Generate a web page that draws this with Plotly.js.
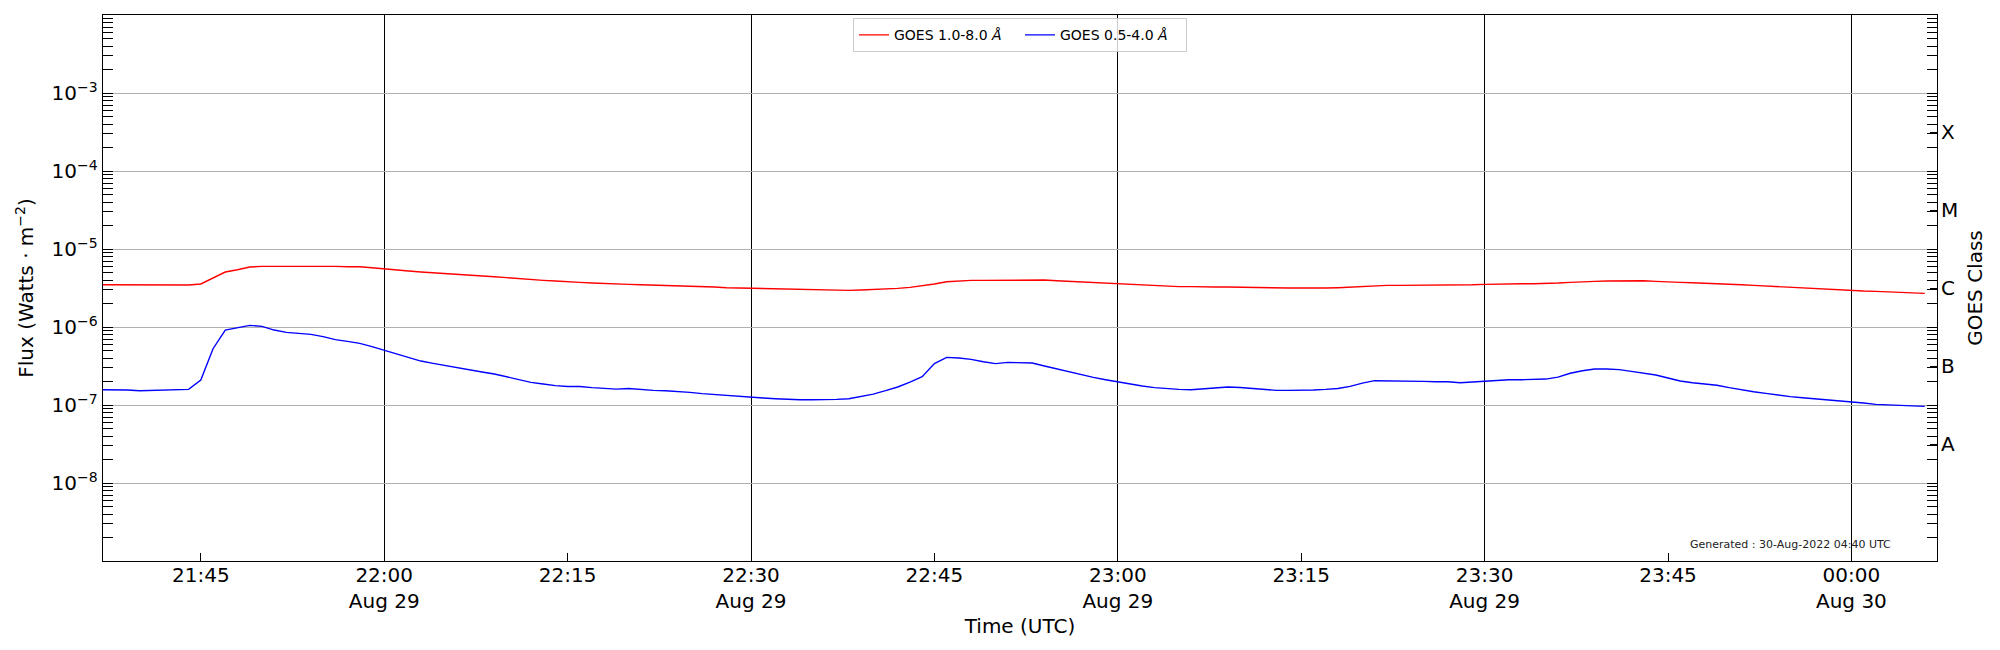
<!DOCTYPE html>
<html>
<head>
<meta charset="utf-8">
<script src="https://cdn.plot.ly/plotly-3.0.1.min.js"></script>
<style>
  html, body { margin: 0; padding: 0; background: #ffffff; }
  #chart { width: 2000px; height: 650px; }
</style>
</head>
<body>
<div id="chart"></div>
<script>
// GOES XRS one-minute averages, 2022-08-29 21:37 UTC onward (one value per minute)
const START_UTC = [2022, 7, 29, 21, 37];
const CADENCE_MIN = 1;

// 1.0-8.0 Å channel, units of 1e-6 W m^-2
const XRS_LONG_E6 = [
  3.48, 3.47, 3.46, 3.46, 3.46, 3.47, 3.47, 3.45, 3.56, 4.25,
  5.07, 5.43, 5.87, 5.99, 5.99, 6.05, 6.05, 6.11, 6.05, 5.99,
  5.93, 5.93, 5.76, 5.54, 5.37, 5.22, 5.07, 4.97, 4.82, 4.73,
  4.64, 4.50, 4.41, 4.29, 4.16, 4.04, 3.96, 3.88,
  3.77, 3.73, 3.66, 3.59, 3.52, 3.52, 3.48, 3.45, 3.42, 3.38,
  3.35, 3.29, 3.25, 3.19, 3.16, 3.13, 3.10, 3.07, 3.04, 3.01,
  2.98, 2.95, 2.95, 2.95, 2.98, 3.01, 3.07, 3.13, 3.22, 3.35,
  3.56, 3.81, 3.92, 3.96, 3.96, 3.96, 4.00,
  4.04, 4.04, 4.00, 3.92, 3.85, 3.77, 3.70, 3.62, 3.59, 3.52,
  3.45, 3.38, 3.32, 3.29, 3.29, 3.25, 3.25, 3.25, 3.22, 3.22,
  3.22, 3.19, 3.16, 3.16, 3.13, 3.16, 3.19, 3.25, 3.32, 3.38,
  3.42, 3.42, 3.42, 3.45, 3.45, 3.45,
  3.45, 3.48, 3.52, 3.56, 3.59, 3.59, 3.59, 3.59, 3.66, 3.73,
  3.81, 3.85, 3.88, 3.92, 3.92, 3.92, 3.85, 3.77, 3.73, 3.70,
  3.66, 3.62, 3.56, 3.48, 3.42, 3.35, 3.29, 3.22, 3.16, 3.10,
  3.07, 3.01, 2.95, 2.89, 2.86, 2.81, 2.78, 2.73, 2.70,
];

// 0.5-4.0 Å channel, units of 1e-7 W m^-2
const XRS_SHORT_E7 = [
  1.57, 1.57, 1.556, 1.525, 1.54, 1.54, 1.556, 1.585, 2.09, 5.27,
  9.14, 9.89, 10.5, 10.2, 9.14, 8.53, 8.20, 8.05, 7.52, 6.88,
  6.55, 6.17, 5.60, 5.02, 4.50, 4.04, 3.66, 3.42, 3.19, 3.04,
  2.84, 2.65, 2.50, 2.31, 2.09, 1.95, 1.86, 1.77,
  1.73, 1.73, 1.67, 1.62, 1.60, 1.63, 1.57, 1.54, 1.525, 1.50,
  1.45, 1.40, 1.36, 1.32, 1.29, 1.25, 1.23, 1.205, 1.18, 1.17,
  1.17, 1.17, 1.18, 1.205, 1.29, 1.38, 1.525, 1.70, 1.97, 2.31,
  3.39, 4.08, 4.00, 3.85, 3.59, 3.39, 3.52,
  3.52, 3.45, 3.16, 2.89, 2.65, 2.45, 2.26, 2.11, 1.97, 1.86,
  1.75, 1.67, 1.62, 1.585, 1.57, 1.62, 1.67, 1.70, 1.68, 1.62,
  1.585, 1.54, 1.54, 1.54, 1.556, 1.585, 1.63, 1.73, 1.91, 2.05,
  2.05, 2.01, 2.01, 2.01, 1.99, 1.99,
  1.93, 1.97, 2.03, 2.09, 2.11, 2.11, 2.11, 2.15, 2.28, 2.55,
  2.75, 2.89, 2.89, 2.84, 2.70, 2.57, 2.42, 2.22, 2.03, 1.93,
  1.86, 1.79, 1.67, 1.556, 1.48, 1.41, 1.34, 1.28, 1.24, 1.205,
  1.18, 1.145, 1.11, 1.06, 1.02, 1.00, 0.98, 0.97, 0.96,
];

const X_RANGE = ["2022-08-29 21:37", "2022-08-30 00:07"];
const LABEL_TIMES = [
  "2022-08-29 21:45", "2022-08-29 22:00", "2022-08-29 22:15", "2022-08-29 22:30",
  "2022-08-29 22:45", "2022-08-29 23:00", "2022-08-29 23:15", "2022-08-29 23:30",
  "2022-08-29 23:45", "2022-08-30 00:00",
];
const LABEL_TEXT = [
  "21:45", "22:00<br>Aug 29", "22:15", "22:30<br>Aug 29", "22:45",
  "23:00<br>Aug 29", "23:15", "23:30<br>Aug 29", "23:45", "00:00<br>Aug 30",
];
const GRID_TIMES = [
  "2022-08-29 22:00", "2022-08-29 22:30", "2022-08-29 23:00",
  "2022-08-29 23:30", "2022-08-30 00:00",
];

const FLUX_EXPONENTS = [-8, -7, -6, -5, -4, -3];
const Y_RANGE_EXP = [-9, -2];
const CLASS_LABELS = ["A", "B", "C", "M", "X"];
const CLASS_EXPONENTS = [-7.5, -6.5, -5.5, -4.5, -3.5];

const LEGEND_NAMES = ["GOES 1.0-8.0 <i>Å</i>", "GOES 0.5-4.0 <i>Å</i>"];
const FOOTNOTE = "Generated : 30-Aug-2022 04:40 UTC";

const FONT = "\"DejaVu Sans\", sans-serif";
const INK = "#000000";

function buildTimes(n) {
  const out = [];
  for (let i = 0; i < n; i++) {
    const d = new Date(Date.UTC(START_UTC[0], START_UTC[1], START_UTC[2],
      START_UTC[3], START_UTC[4] + i * CADENCE_MIN));
    out.push(d.toISOString().slice(0, 19).replace("T", " "));
  }
  return out;
}

function minorLogTicks() {
  const vals = [];
  for (let e = Y_RANGE_EXP[0]; e < Y_RANGE_EXP[1]; e++) {
    for (let k = 2; k <= 9; k++) vals.push(k * Math.pow(10, e));
  }
  return vals;
}

const times = buildTimes(XRS_LONG_E6.length);
const longFlux = XRS_LONG_E6.map((v) => v * 1e-6);
const shortFlux = XRS_SHORT_E7.map((v) => v * 1e-7);

const traces = [
  {
    type: "scatter", mode: "lines", x: times, y: longFlux,
    name: LEGEND_NAMES[0], line: { color: "#ff0000", width: 1.4 },
  },
  {
    type: "scatter", mode: "lines", x: times, y: shortFlux,
    name: LEGEND_NAMES[1], line: { color: "#0000ff", width: 1.4 },
  },
  { type: "scatter", x: [], y: [], xaxis: "x2", yaxis: "y", showlegend: false, hoverinfo: "skip" },
  { type: "scatter", x: [], y: [], xaxis: "x", yaxis: "y2", showlegend: false, hoverinfo: "skip" },
];

const layout = {
  width: 2000,
  height: 650,
  paper_bgcolor: "#ffffff",
  plot_bgcolor: "#ffffff",
  font: { family: FONT, color: INK, size: 20 },
  margin: { l: 103, r: 63, t: 15, b: 89 },
  showlegend: true,
  legend: {
    orientation: "h",
    x: 0.5, xanchor: "center",
    y: 0.994, yanchor: "top",
    bgcolor: "rgba(255,255,255,0.8)",
    bordercolor: "#cccccc",
    borderwidth: 1,
    entrywidth: 121,
    font: { size: 14, family: FONT },
  },
  xaxis: {
    type: "date",
    range: X_RANGE,
    tickmode: "array",
    tickvals: GRID_TIMES,
    showticklabels: false,
    ticks: "",
    showgrid: true,
    gridcolor: INK,
    gridwidth: 1,
    zeroline: false,
    showline: true,
    linecolor: INK,
    linewidth: 1.3,
    mirror: true,
  },
  xaxis2: {
    type: "date",
    overlaying: "x",
    anchor: "y",
    side: "bottom",
    range: X_RANGE,
    tickmode: "array",
    tickvals: LABEL_TIMES,
    ticktext: LABEL_TEXT,
    ticks: "inside",
    ticklen: 8,
    tickwidth: 1,
    tickcolor: INK,
    showgrid: false,
    zeroline: false,
    tickfont: { size: 20, family: FONT, color: INK },
    title: { text: "Time (UTC)", font: { size: 20, family: FONT, color: INK }, standoff: 6 },
  },
  yaxis: {
    type: "log",
    range: Y_RANGE_EXP,
    tickmode: "array",
    tickvals: FLUX_EXPONENTS.map((e) => Math.pow(10, e)),
    ticktext: FLUX_EXPONENTS.map((e) => "10<sup>\u2212" + Math.abs(e) + "</sup>"),
    ticks: "inside",
    ticklen: 10,
    tickwidth: 1,
    tickcolor: INK,
    minor: {
      tickmode: "array",
      tickvals: minorLogTicks(),
      ticks: "inside",
      ticklen: 7,
      tickwidth: 1,
      tickcolor: INK,
      showgrid: false,
    },
    showgrid: true,
    gridcolor: "#b0b0b0",
    gridwidth: 1,
    zeroline: false,
    showline: true,
    linecolor: INK,
    linewidth: 1.3,
    mirror: "allticks",
    tickfont: { size: 20, family: FONT, color: INK },
    title: {
      text: "Flux (Watts \u00b7 m<sup>\u22122</sup>)",
      font: { size: 20, family: FONT, color: INK },
      standoff: 12,
    },
  },
  yaxis2: {
    type: "log",
    overlaying: "y",
    anchor: "x",
    side: "right",
    range: Y_RANGE_EXP,
    tickmode: "array",
    tickvals: CLASS_EXPONENTS.map((e) => Math.pow(10, e)),
    ticktext: CLASS_LABELS,
    ticks: "inside",
    ticklen: 7,
    tickwidth: 1,
    tickcolor: INK,
    ticklabelstandoff: 3,
    showgrid: false,
    zeroline: false,
    tickfont: { size: 20, family: FONT, color: INK },
    title: { text: "GOES Class", font: { size: 20, family: FONT, color: INK }, standoff: 10 },
  },
  annotations: [
    {
      xref: "paper", yref: "paper",
      x: 0.92, y: 0.031,
      xanchor: "center", yanchor: "middle",
      text: FOOTNOTE,
      showarrow: false,
      font: { size: 11, family: FONT, color: "#222222" },
    },
  ],
};

Plotly.newPlot("chart", traces, layout, { displayModeBar: false, staticPlot: true });
</script>
</body>
</html>
